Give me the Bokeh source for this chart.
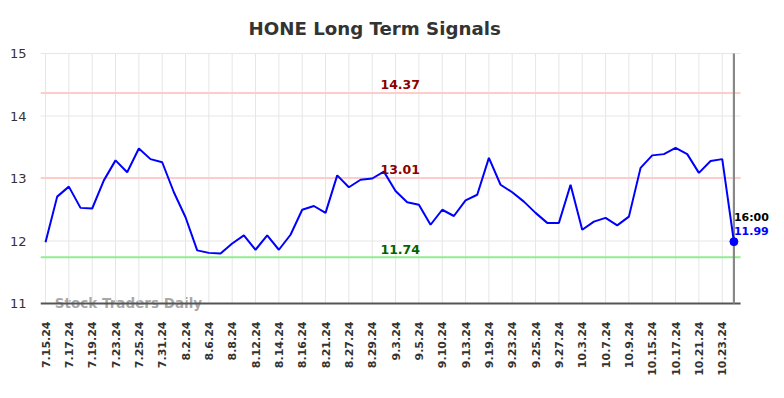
from bokeh.plotting import figure
from bokeh.models import Range1d, Label, FixedTicker
from bokeh.embed import file_html
from bokeh.resources import INLINE
import math

tick_labels = ["7.15.24", "7.17.24", "7.19.24", "7.23.24", "7.25.24", "7.31.24", "8.2.24", "8.6.24",
               "8.8.24", "8.12.24", "8.14.24", "8.16.24", "8.21.24", "8.27.24", "8.29.24", "9.3.24",
               "9.5.24", "9.10.24", "9.13.24", "9.19.24", "9.23.24", "9.25.24", "9.27.24", "10.3.24",
               "10.7.24", "10.9.24", "10.15.24", "10.17.24", "10.21.24", "10.23.24"]

prices = [11.98, 12.71, 12.87, 12.53, 12.52, 12.97, 13.29, 13.10, 13.48, 13.31,
          13.26, 12.78, 12.38, 11.85, 11.81, 11.80, 11.96, 12.09, 11.86, 12.09,
          11.86, 12.10, 12.50, 12.56, 12.45, 13.05, 12.86, 12.98, 13.00, 13.11,
          12.80, 12.62, 12.58, 12.26, 12.50, 12.40, 12.65, 12.74, 13.33, 12.90,
          12.78, 12.63, 12.45, 12.29, 12.29, 12.90, 12.18, 12.31, 12.37, 12.25,
          12.39, 13.17, 13.37, 13.39, 13.49, 13.39, 13.09, 13.28, 13.31, 11.99]

upper_levels = [14.37, 13.01]
lower_levels = [11.74]
y_ticks = [11, 12, 13, 14, 15]
last_time = "16:00"
title_text = "HONE Long Term Signals"
watermark = "Stock Traders Daily"

FONT = "DejaVu Sans"
n = len(prices)
xs = list(range(n))
tick_pos = [2 * i for i in range(len(tick_labels))]

x0 = -0.43            # left edge of the plotting area
x_line_end = n - 0.43  # where horizontal lines stop
y_lo, y_hi = y_ticks[0], y_ticks[-1]

p = figure(width=776, height=382, output_backend="svg", toolbar_location=None,
           x_range=Range1d(x0, 62.65), y_range=Range1d(y_lo - 0.128, y_hi + 0.032),
           min_border_left=40, min_border_right=0, min_border_top=51, min_border_bottom=71)
p.title.text = title_text
p.title.align = "left"
p.title.offset = 208
p.title.standoff = 25
p.title.text_font = FONT
p.title.text_font_size = "18.2px"
p.title.text_font_style = "bold"
p.title.text_color = "#333333"
p.outline_line_color = None
p.background_fill_color = "white"
p.border_fill_color = "white"

p.xaxis.ticker = FixedTicker(ticks=tick_pos)
p.xaxis.major_label_overrides = {t: l for t, l in zip(tick_pos, tick_labels)}
p.xaxis.major_label_orientation = math.pi / 2
p.xaxis.major_label_text_font = FONT
p.xaxis.major_label_text_font_size = "11px"
p.xaxis.major_label_text_font_style = "bold"
p.xaxis.major_label_text_color = "#333333"
p.xaxis.major_label_standoff = 10
p.xaxis.major_tick_out = 0
p.xaxis.major_tick_in = 0
p.xaxis.major_tick_line_color = None
p.xaxis.minor_tick_line_color = None
p.xaxis.axis_line_color = None

p.yaxis.ticker = FixedTicker(ticks=y_ticks)
p.yaxis.major_label_text_font = FONT
p.yaxis.major_label_text_font_size = "13px"
p.yaxis.major_label_text_color = "#333333"
p.yaxis.major_label_standoff = 14
p.yaxis.major_tick_out = 0
p.yaxis.major_tick_in = 0
p.yaxis.major_tick_line_color = None
p.yaxis.minor_tick_line_color = None
p.yaxis.axis_line_color = None

p.xgrid.grid_line_color = None
p.ygrid.grid_line_color = None

# watermark (under everything)
p.add_layout(Label(x=0.8, y=y_lo, text=watermark, text_align="left", text_baseline="alphabetic",
                   y_offset=1, text_font=FONT, text_font_size="13.5px", text_font_style="bold",
                   text_color="#999999", text_alpha=0.85, level="underlay"))

# grid lines
p.segment(x0=tick_pos, y0=[y_lo] * len(tick_pos), x1=tick_pos, y1=[y_hi] * len(tick_pos),
          line_color="#e6e6e6", line_width=1)
p.segment(x0=[x0] * 4, y0=y_ticks[1:], x1=[x_line_end] * 4, y1=y_ticks[1:],
          line_color="#e6e6e6", line_width=1)

# signal levels
p.segment(x0=[x0] * len(upper_levels), y0=upper_levels, x1=[x_line_end] * len(upper_levels),
          y1=upper_levels, line_color="#ffcccc", line_width=2)
p.segment(x0=[x0] * len(lower_levels), y0=lower_levels, x1=[x_line_end] * len(lower_levels),
          y1=lower_levels, line_color="#90ee90", line_width=2)
for lv in upper_levels:
    p.add_layout(Label(x=30.4, y=lv, text=f"{lv:.2f}", text_align="center", text_baseline="alphabetic",
                       y_offset=8, text_font=FONT, text_font_size="12.5px", text_font_style="bold",
                       text_color="#8b0000"))
for lv in lower_levels:
    p.add_layout(Label(x=30.4, y=lv, text=f"{lv:.2f}", text_align="center", text_baseline="alphabetic",
                       y_offset=8, text_font=FONT, text_font_size="12.5px", text_font_style="bold",
                       text_color="#006400"))

# x axis line and last-point marker line
p.segment(x0=[x0], y0=[y_lo], x1=[x_line_end], y1=[y_lo], line_color="#555555", line_width=1.8)
p.segment(x0=[n - 1], y0=[y_lo], x1=[n - 1], y1=[y_hi], line_color="#888888", line_width=2.2)

p.line(xs, prices, line_color="#0000ff", line_width=2)
p.scatter([xs[-1]], [prices[-1]], size=8, fill_color="#0000ff", line_color="#0000ff")

p.add_layout(Label(x=n - 1, y=prices[-1], text=last_time, text_align="left", text_baseline="middle",
                   x_offset=0, y_offset=24, text_font=FONT, text_font_size="11px",
                   text_font_style="bold", text_color="#000000"))
p.add_layout(Label(x=n - 1, y=prices[-1], text=f"{prices[-1]:.2f}", text_align="left",
                   text_baseline="middle", x_offset=0, y_offset=11, text_font=FONT,
                   text_font_size="11px", text_font_style="bold", text_color="#0000ff"))

open("out.html", "w").write(file_html(p, INLINE))
